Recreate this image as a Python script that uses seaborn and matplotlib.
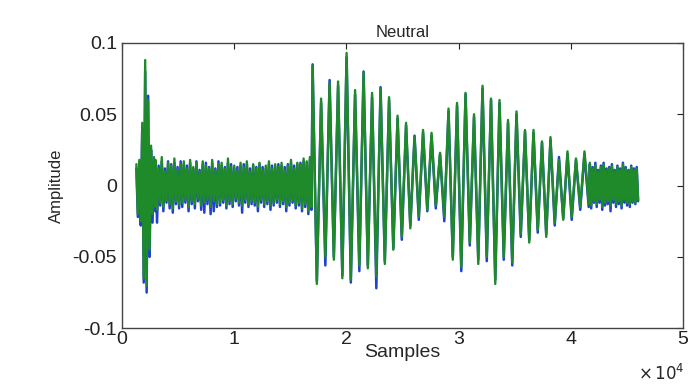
import numpy as np
import pandas as pd
import matplotlib
matplotlib.use('Agg')
import matplotlib.pyplot as plt
import seaborn as sns

# turning points (peak, trough, peak, ...), per segment
# segment sample ranges
onset_range = (1300, 3000)
noise_range = (3000, 16900)
voiced_range = (17000, 41600)
tail_range = (41700, 46000)

# onset burst
green_onset = [0.015, -0.020, 0.018, -0.025, 0.044, -0.065, 0.088, -0.070, 0.060, -0.045, 0.028, -0.020, 0.020, -0.015]
blue_onset = [0.012, -0.022, 0.016, -0.028, 0.040, -0.068, 0.080, -0.075, 0.063, -0.050, 0.025, -0.026, 0.017, -0.018]

# low level noise before the vowel
green_noise_hi = [0.018, 0.012, 0.020, 0.010, 0.016, 0.014, 0.019, 0.011, 0.015, 0.017,
                  0.012, 0.018, 0.013, 0.016, 0.010, 0.017, 0.014, 0.012, 0.018, 0.011,
                  0.015, 0.016, 0.012, 0.019, 0.013, 0.014, 0.011, 0.016, 0.013, 0.017,
                  0.010, 0.015, 0.012, 0.016, 0.011, 0.014, 0.017, 0.012, 0.015, 0.013,
                  0.016, 0.011, 0.014, 0.018, 0.012, 0.016, 0.015, 0.019, 0.017, 0.020]
green_noise_lo = [-0.017, -0.012, -0.015, -0.010, -0.013, -0.016, -0.011, -0.014, -0.012, -0.010,
                  -0.015, -0.011, -0.013, -0.009, -0.014, -0.012, -0.010, -0.015, -0.011, -0.013,
                  -0.012, -0.010, -0.014, -0.011, -0.013, -0.009, -0.012, -0.014, -0.010, -0.013,
                  -0.011, -0.012, -0.015, -0.010, -0.013, -0.011, -0.014, -0.012, -0.010, -0.013,
                  -0.011, -0.015, -0.012, -0.010, -0.014, -0.012, -0.016, -0.013, -0.018, -0.015]
blue_noise_hi = [0.016, 0.014, 0.017, 0.012, 0.017, 0.015, 0.016, 0.013, 0.017, 0.015,
                 0.014, 0.016, 0.012, 0.017, 0.011, 0.015, 0.016, 0.013, 0.016, 0.012,
                 0.017, 0.014, 0.013, 0.016, 0.015, 0.012, 0.013, 0.014, 0.015, 0.015,
                 0.012, 0.014, 0.013, 0.015, 0.013, 0.012, 0.015, 0.014, 0.013, 0.015,
                 0.014, 0.013, 0.015, 0.016, 0.014, 0.015, 0.016, 0.017, 0.016, 0.018]
blue_noise_lo = [-0.026, -0.014, -0.018, -0.012, -0.016, -0.019, -0.013, -0.016, -0.015, -0.012,
                 -0.018, -0.013, -0.016, -0.011, -0.017, -0.019, -0.013, -0.020, -0.018, -0.015,
                 -0.014, -0.012, -0.016, -0.013, -0.015, -0.011, -0.014, -0.019, -0.012, -0.015,
                 -0.013, -0.014, -0.018, -0.012, -0.015, -0.013, -0.017, -0.014, -0.012, -0.015,
                 -0.013, -0.018, -0.014, -0.012, -0.016, -0.014, -0.018, -0.015, -0.020, -0.017]

# voiced part: one peak and one trough per pitch period
green_voiced_hi = [0.084, 0.061, 0.072, 0.073, 0.093, 0.067, 0.079, 0.065, 0.068, 0.062, 0.049,
                   0.044, 0.034, 0.039, 0.037, 0.023, 0.054, 0.058, 0.065, 0.050, 0.070, 0.061,
                   0.060, 0.046, 0.052, 0.039, 0.039, 0.031, 0.034, 0.018, 0.024, 0.019, 0.024]
green_voiced_lo = [-0.069, -0.050, -0.052, -0.065, -0.066, -0.056, -0.058, -0.064, -0.055, -0.045, -0.036,
                   -0.030, -0.022, -0.017, -0.014, -0.022, -0.052, -0.057, -0.040, -0.055, -0.050, -0.069,
                   -0.050, -0.054, -0.034, -0.040, -0.031, -0.036, -0.026, -0.024, -0.022, -0.015, -0.013]
blue_voiced_hi = [0.085, 0.058, 0.074, 0.070, 0.090, 0.064, 0.080, 0.062, 0.069, 0.060, 0.047,
                  0.042, 0.035, 0.037, 0.035, 0.022, 0.052, 0.056, 0.064, 0.048, 0.068, 0.060,
                  0.058, 0.044, 0.050, 0.038, 0.037, 0.030, 0.032, 0.020, 0.022, 0.018, 0.022]
blue_voiced_lo = [-0.067, -0.056, -0.050, -0.063, -0.068, -0.060, -0.056, -0.072, -0.053, -0.044, -0.038,
                  -0.028, -0.024, -0.018, -0.016, -0.025, -0.050, -0.060, -0.042, -0.052, -0.053, -0.066,
                  -0.052, -0.056, -0.036, -0.038, -0.033, -0.034, -0.028, -0.023, -0.024, -0.017, -0.015]

# tail noise
green_tail_hi = [0.016, 0.012, 0.014, 0.010, 0.013, 0.015, 0.011, 0.012, 0.014, 0.010,
                 0.013, 0.011, 0.015, 0.012, 0.010, 0.013, 0.011, 0.012]
green_tail_lo = [-0.014, -0.011, -0.013, -0.010, -0.015, -0.012, -0.011, -0.014, -0.010, -0.013,
                 -0.011, -0.014, -0.010, -0.012, -0.013, -0.011, -0.012, -0.010]
blue_tail_hi = [0.015, 0.013, 0.016, 0.011, 0.014, 0.016, 0.012, 0.013, 0.015, 0.011,
                0.014, 0.012, 0.016, 0.013, 0.011, 0.014, 0.012, 0.013]
blue_tail_lo = [-0.016, -0.012, -0.015, -0.012, -0.017, -0.014, -0.013, -0.018, -0.012, -0.015,
                -0.013, -0.016, -0.012, -0.014, -0.015, -0.012, -0.013, -0.011]


def interleave(hi, lo):
    out = []
    for a, b in zip(hi, lo):
        out += [a, b]
    return out


def build(name, parts):
    xs, ys = [], []
    for (start, end), vals in parts:
        xs += list(np.linspace(start, end, len(vals)))
        ys += vals
    return pd.DataFrame({'Samples': xs, 'Amplitude': ys, 'ch': name})


blue_df = build('blue', [(onset_range, blue_onset),
                         (noise_range, interleave(blue_noise_hi, blue_noise_lo)),
                         (voiced_range, interleave(blue_voiced_hi, blue_voiced_lo)),
                         (tail_range, interleave(blue_tail_hi, blue_tail_lo))])
green_df = build('green', [(onset_range, green_onset),
                           (noise_range, interleave(green_noise_hi, green_noise_lo)),
                           (voiced_range, interleave(green_voiced_hi, green_voiced_lo)),
                           (tail_range, interleave(green_tail_hi, green_tail_lo))])

sns.set_style('white')
plt.rcParams['font.family'] = ['Liberation Sans', 'DejaVu Sans']

fig = plt.figure(figsize=(6.92, 3.87), dpi=100)
ax = fig.add_axes([0.176, 0.152, 0.811, 0.737])

sns.lineplot(data=blue_df, x='Samples', y='Amplitude', ax=ax, sort=False,
             color='#2040d0', linewidth=1.8, estimator=None)
sns.lineplot(data=green_df, x='Samples', y='Amplitude', ax=ax, sort=False,
             color='#1e8a2a', linewidth=1.7, estimator=None)

ax.set_xlim(0, 50000)
ax.set_ylim(-0.1, 0.1)
ax.set_xticks([0, 10000, 20000, 30000, 40000, 50000])
ax.set_xticklabels(['0', '1', '2', '3', '4', '5'])
ax.set_yticks([-0.1, -0.05, 0, 0.05, 0.1])
ax.set_yticklabels(['-0.1', '-0.05', '0', '0.05', '0.1'])
ax.tick_params(direction='in', length=4, width=0.8, labelsize=14, top=True, right=True,
               colors='#222222')
ax.tick_params(axis='x', pad=2)
for s in ax.spines.values():
    s.set_visible(True)
    s.set_color('#444444')
    s.set_linewidth(1.0)

ax.set_title('Neutral', fontsize=12, pad=4)
ax.set_xlabel('Samples', fontsize=14, labelpad=-3)
ax.set_ylabel('Amplitude', fontsize=12, labelpad=6)
fig.text(0.99, 0.035, r'$\times\,10^4$', fontsize=12,
         ha='right', va='center', family='DejaVu Sans')

fig.savefig('out.png', dpi=100)
